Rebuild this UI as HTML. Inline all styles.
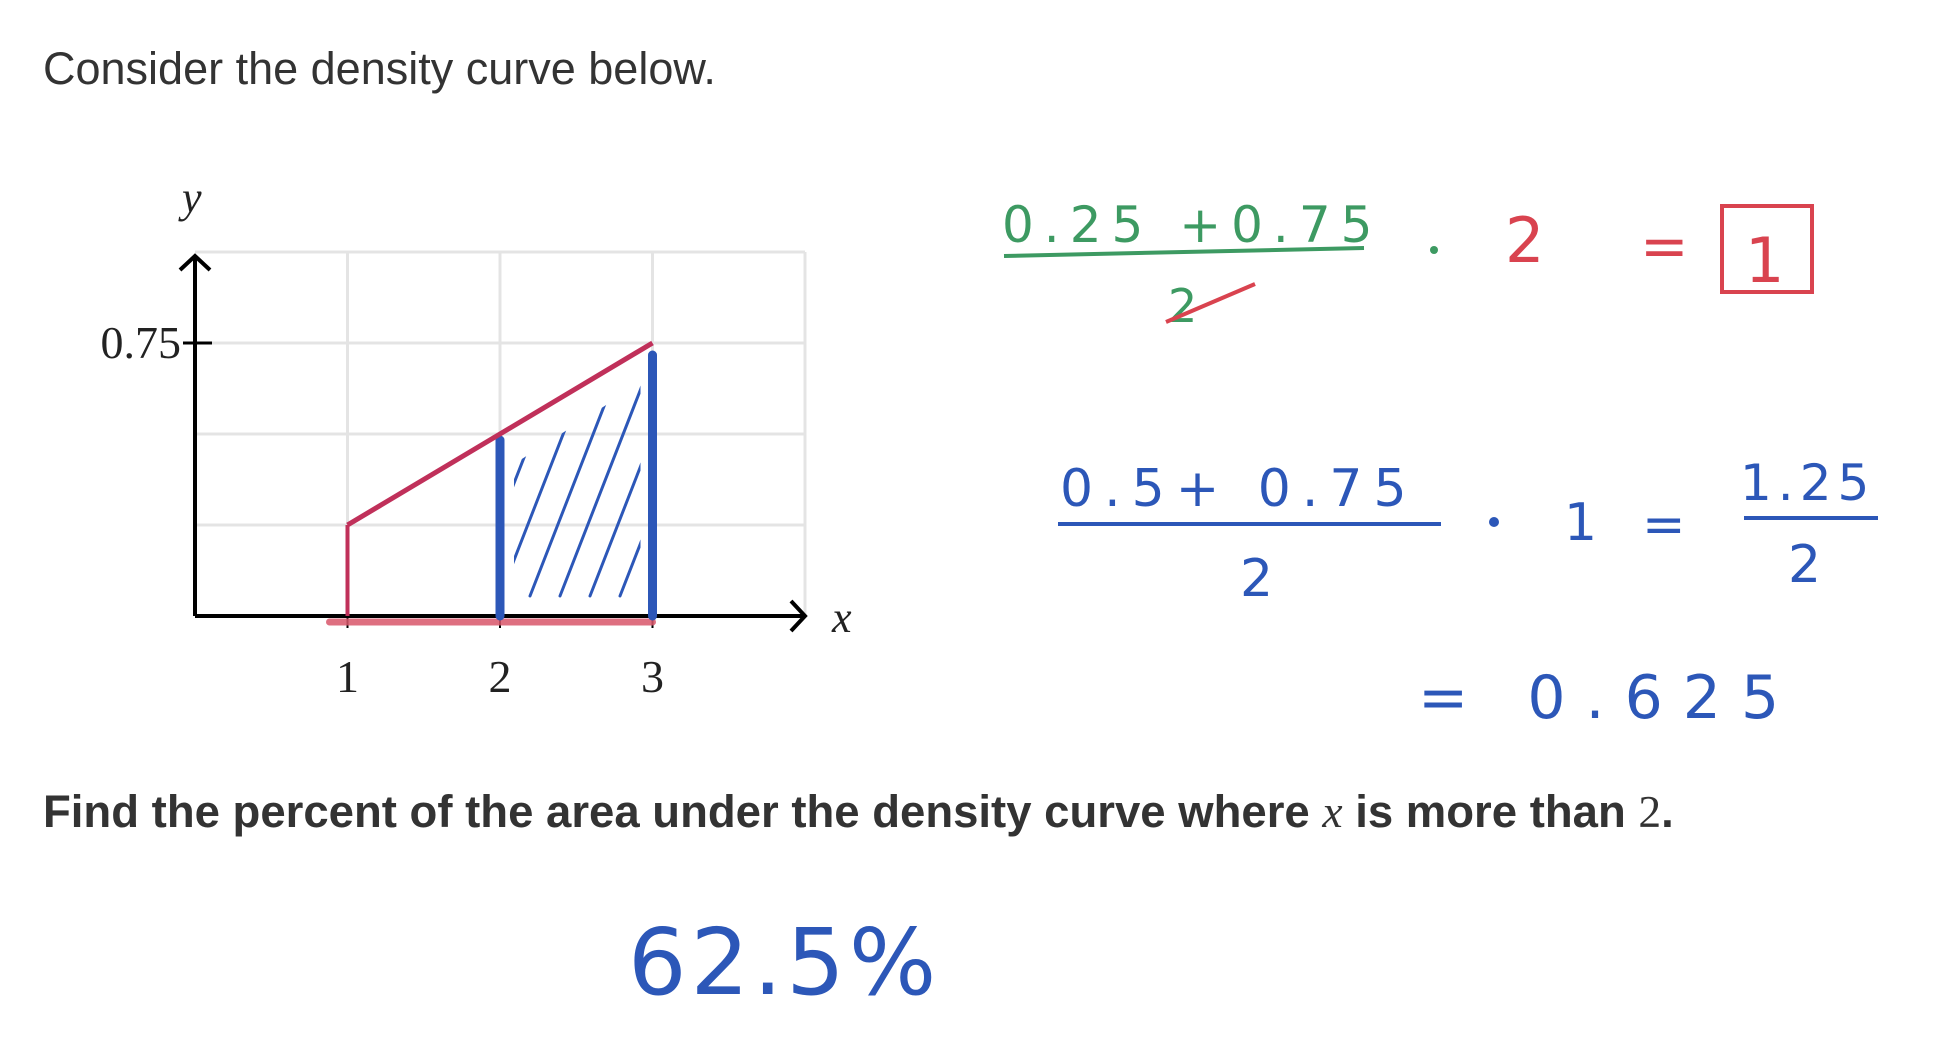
<!DOCTYPE html>
<html><head><meta charset="utf-8">
<style>
html,body{margin:0;padding:0;background:#fff;width:1944px;height:1048px;overflow:hidden}
svg{display:block}
.hw{font-family:"DejaVu Sans","Liberation Sans",sans-serif;font-weight:normal}
</style></head>
<body>
<svg id="s" width="1944" height="1048" viewBox="0 0 1944 1048">
<defs><clipPath id="hc"><polygon id="hcp" points="0,0"/></clipPath></defs>
<text x="43" y="84" font-family="Liberation Sans, sans-serif" font-size="45" fill="#333">Consider the density curve below.</text>
<g id="chart"></g>
<text x="43" y="827" font-family="Liberation Sans, sans-serif" font-size="45.5" font-weight="bold" fill="#333">Find the percent of the area under the density curve where <tspan font-family="Liberation Serif, serif" font-style="italic" font-weight="normal">x</tspan> is more than <tspan font-family="Liberation Serif, serif" font-weight="normal">2</tspan>.</text>

<g class="hw" fill="#3d9a62">
<text x="1002" y="242" font-size="50" letter-spacing="10">0.25 +0.75</text>
<line x1="1004" y1="256" x2="1364" y2="248" stroke="#3d9a62" stroke-width="4"/>
<text x="1168" y="322" font-size="46">2</text>
<line x1="1166" y1="322" x2="1255" y2="284" stroke="#d9434f" stroke-width="4"/>
<circle cx="1434" cy="250" r="4"/>
</g>
<g class="hw" fill="#d9434f">
<text x="1505" y="262" font-size="62">2</text>
<text x="1640" y="266" font-size="58">=</text>
<rect x="1722" y="206" width="90" height="86" fill="none" stroke="#d9434f" stroke-width="4"/>
<text x="1745" y="282" font-size="62">1</text>
</g>
<g class="hw" fill="#2c57b8">
<text x="1060" y="506" font-size="52" letter-spacing="11">0.5+ 0.75</text>
<line x1="1058" y1="524" x2="1441" y2="524" stroke="#2c57b8" stroke-width="4"/>
<text x="1240" y="596" font-size="52">2</text>
<circle cx="1494" cy="522" r="5"/>
<text x="1564" y="540" font-size="52">1</text>
<text x="1642" y="542" font-size="52">=</text>
<text x="1740" y="500" font-size="50" letter-spacing="6">1.25</text>
<line x1="1744" y1="518" x2="1878" y2="518" stroke="#2c57b8" stroke-width="4"/>
<text x="1788" y="582" font-size="52">2</text>
<text x="1418" y="718" font-size="60" letter-spacing="20">= 0.625</text>
<text x="628" y="994" font-size="92" letter-spacing="4">62.5%</text>
</g>
</svg>
<script>
const xValues=[1,2,3];
const yValues=[0.25,0.5,0.75];
const xTicks=["1","2","3"];
const yTickValue=0.75;
const yTickLabel="0.75";
const NS="http://www.w3.org/2000/svg";
const g=document.getElementById('chart');
const x0=195,xs=152.5,y0=616,ys=364;
function X(v){return x0+v*xs;}
function Y(v){return y0-v*ys;}
function mk(t,a,p){const e=document.createElementNS(NS,t);for(const k in a)e.setAttribute(k,a[k]);(p||g).appendChild(e);return e;}
for(let i=1;i<=4;i++){
 const l=mk('line',{x1:X(i),y1:Y(1),x2:X(i),y2:y0,stroke:'#e4e4e4','stroke-width':3});
 
 
 const h=mk('line',{x1:x0,y1:Y(i*0.25),x2:X(4),y2:Y(i*0.25),stroke:'#e4e4e4','stroke-width':3});
 
 
}
const ax=mk('path',{d:`M${x0} ${y0} H${X(4)} M${X(4)-14} ${y0-15} L${X(4)} ${y0} L${X(4)-14} ${y0+15}`,stroke:'#000','stroke-width':4,fill:'none'});


const ay=mk('path',{d:`M${x0} ${y0} V${Y(1)+4} M${x0-15} ${Y(1)+18} L${x0} ${Y(1)+4} L${x0+15} ${Y(1)+18}`,stroke:'#000','stroke-width':4,fill:'none'});


const tk=mk('line',{x1:x0-12,y1:Y(yTickValue),x2:x0+17,y2:Y(yTickValue),stroke:'#000','stroke-width':3});


const yl=mk('text',{x:x0-14,y:Y(yTickValue)+15,'text-anchor':'end','font-family':'Liberation Serif, serif','font-size':46,fill:'#222'});
yl.textContent=yTickLabel;


xTicks.forEach((t,i)=>{
 const v=xValues[i];
 const l=mk('line',{x1:X(v),y1:y0-6,x2:X(v),y2:y0+12,stroke:'#000','stroke-width':2});
 
 
 const tx=mk('text',{x:X(v),y:692,'text-anchor':'middle','font-family':'Liberation Serif, serif','font-size':46,fill:'#222'});
 tx.textContent=t;
 
 
});
const xt=mk('text',{x:832,y:632,'font-family':'Liberation Serif, serif','font-style':'italic','font-size':44,fill:'#222'});
xt.textContent='x';


const yt=mk('text',{x:182,y:212,'font-family':'Liberation Serif, serif','font-style':'italic','font-size':44,fill:'#222'});
yt.textContent='y';


const base=mk('line',{x1:X(xValues[0])-18,y1:y0+6,x2:X(xValues[xValues.length-1]),y2:y0+6,stroke:'#d9566a','stroke-width':7,'stroke-linecap':'round',opacity:0.85});


// hatching clipped to region x in [2,3]
const i2=xValues.indexOf(2),i3=xValues.indexOf(3);
document.getElementById('hcp').setAttribute('points',
 `${X(2)+14},${y0-10} ${X(3)-12},${y0-10} ${X(3)-12},${Y(yValues[i3])+40} ${X(2)+14},${Y(yValues[i2])+30}`);
const hg=mk('g',{'clip-path':'url(#hc)'});


for(let k=0;k<8;k++){
 const bx=X(2)-60+k*30;
 const h=mk('line',{x1:bx,y1:y0-20,x2:bx+120,y2:Y(0.9),stroke:'#2c57b8','stroke-width':3,'stroke-linecap':'round'},hg);
 
 
}
[2,3].forEach(v=>{
 const i=xValues.indexOf(v);
 const l=mk('line',{x1:X(v),y1:Y(yValues[i])+(v===3?12:6),x2:X(v),y2:y0,stroke:'#2c57b8','stroke-width':9,'stroke-linecap':'round'});
 
 
});
const le=mk('line',{x1:X(xValues[0]),y1:Y(yValues[0]),x2:X(xValues[0]),y2:y0,stroke:'#c0305a','stroke-width':4});


const pts=xValues.map((v,i)=>X(v)+','+Y(yValues[i])).join(' ');
const c=mk('polyline',{points:pts,fill:'none',stroke:'#c0305a','stroke-width':5,'stroke-linejoin':'round'});


</script>
</body></html>
